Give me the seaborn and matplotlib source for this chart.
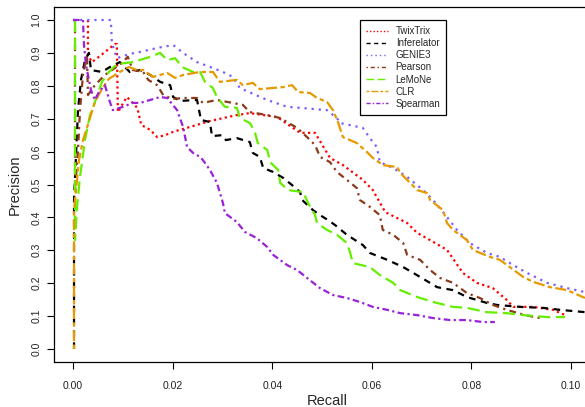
import numpy as np
import pandas as pd
import seaborn as sns
from matplotlib import pyplot as plt

# precision / recall points, one pair of lists per method
twix_r = [0.0030, 0.0030, 0.0038, 0.0062, 0.0084, 0.0088, 0.0090, 0.0108, 0.0118,
          0.0129, 0.0137, 0.0155, 0.0169, 0.0185, 0.0201, 0.0235, 0.0275, 0.0329,
          0.0355, 0.0410, 0.0456, 0.0486, 0.0516, 0.0542, 0.0582, 0.0602, 0.0627,
          0.0671, 0.0691, 0.0717, 0.0751, 0.0783, 0.0811, 0.0843, 0.0871, 0.0884,
          0.0924, 0.0964, 0.0988]
twix_p = [1.000, 0.894, 0.872, 0.900, 0.927, 0.927, 0.720, 0.766, 0.751,
          0.733, 0.681, 0.666, 0.644, 0.650, 0.660, 0.675, 0.693, 0.711,
          0.717, 0.705, 0.657, 0.657, 0.581, 0.559, 0.514, 0.483, 0.416,
          0.383, 0.353, 0.331, 0.301, 0.231, 0.201, 0.185, 0.149, 0.128,
          0.128, 0.119, 0.103]

inf_r = [0.0002, 0.0002, 0.0010, 0.0016, 0.0024, 0.0032, 0.0036, 0.0058, 0.0074,
         0.0094, 0.0114, 0.0135, 0.0155, 0.0175, 0.0195, 0.0201, 0.0215, 0.0249,
         0.0257, 0.0275, 0.0279, 0.0299, 0.0307, 0.0329, 0.0355, 0.0361, 0.0375,
         0.0382, 0.0402, 0.0422, 0.0440, 0.0456, 0.0460, 0.0482, 0.0496, 0.0512,
         0.0526, 0.0550, 0.0582, 0.0596, 0.0631, 0.0663, 0.0697, 0.0731, 0.0763,
         0.0791, 0.0831, 0.0851, 0.0898, 0.0944, 0.0978, 0.1028]
inf_p = [0.000, 0.453, 0.726, 0.818, 0.878, 0.900, 0.848, 0.842, 0.857,
         0.872, 0.842, 0.848, 0.833, 0.812, 0.802, 0.766, 0.754, 0.757,
         0.696, 0.690, 0.647, 0.650, 0.635, 0.641, 0.629, 0.596, 0.584,
         0.550, 0.538, 0.520, 0.498, 0.477, 0.453, 0.422, 0.407, 0.392,
         0.377, 0.347, 0.316, 0.292, 0.271, 0.249, 0.219, 0.188, 0.179,
         0.158, 0.140, 0.134, 0.128, 0.125, 0.119, 0.112]

genie_r = [0.0, 0.0076, 0.0078, 0.0088, 0.0114, 0.0135, 0.0169, 0.0201, 0.0221,
           0.0249, 0.0281, 0.0301, 0.0321, 0.0335, 0.0390, 0.0430, 0.0456, 0.0510,
           0.0530, 0.0536, 0.0582, 0.0596, 0.0610, 0.0616, 0.0643, 0.0671, 0.0703,
           0.0723, 0.0751, 0.0771, 0.0797, 0.0831, 0.0857, 0.0884, 0.0912, 0.0952,
           0.0992, 0.1028]
genie_p = [1.000, 1.000, 0.930, 0.884, 0.897, 0.903, 0.915, 0.924, 0.900,
           0.872, 0.854, 0.842, 0.827, 0.793, 0.757, 0.736, 0.733, 0.726,
           0.702, 0.687, 0.672, 0.641, 0.614, 0.568, 0.550, 0.523, 0.483,
           0.453, 0.401, 0.362, 0.322, 0.292, 0.280, 0.255, 0.231, 0.201,
           0.185, 0.173]

pear_r = [0.0004, 0.0004, 0.0010, 0.0014, 0.0020, 0.0028, 0.0030, 0.0044, 0.0064,
          0.0084, 0.0098, 0.0110, 0.0120, 0.0141, 0.0151, 0.0169, 0.0181, 0.0199,
          0.0225, 0.0249, 0.0261, 0.0289, 0.0341, 0.0355, 0.0390, 0.0416, 0.0450,
          0.0470, 0.0486, 0.0496, 0.0516, 0.0530, 0.0550, 0.0570, 0.0576, 0.0596,
          0.0616, 0.0622, 0.0643, 0.0663, 0.0671, 0.0697, 0.0717, 0.0737, 0.0763,
          0.0791, 0.0817, 0.0843, 0.0871, 0.0908, 0.0938]
pear_p = [1.000, 0.483, 0.605, 0.726, 0.833, 0.894, 0.772, 0.802, 0.833,
          0.854, 0.869, 0.888, 0.848, 0.842, 0.818, 0.802, 0.772, 0.760,
          0.763, 0.763, 0.748, 0.757, 0.742, 0.720, 0.711, 0.702, 0.672,
          0.644, 0.620, 0.584, 0.568, 0.538, 0.514, 0.489, 0.453, 0.432,
          0.407, 0.362, 0.347, 0.322, 0.286, 0.271, 0.240, 0.216, 0.201,
          0.170, 0.155, 0.134, 0.119, 0.103, 0.094]

lemo_r = [0.0004, 0.0004, 0.0008, 0.0014, 0.0024, 0.0034, 0.0042, 0.0058, 0.0072,
          0.0088, 0.0120, 0.0155, 0.0175, 0.0189, 0.0205, 0.0219, 0.0241, 0.0255,
          0.0265, 0.0281, 0.0289, 0.0305, 0.0329, 0.0335, 0.0355, 0.0365, 0.0371,
          0.0390, 0.0396, 0.0412, 0.0416, 0.0432, 0.0462, 0.0472, 0.0486, 0.0490,
          0.0510, 0.0530, 0.0550, 0.0556, 0.0562, 0.0596, 0.0616, 0.0643, 0.0657,
          0.0691, 0.0723, 0.0763, 0.0791, 0.0831, 0.0871, 0.0904, 0.0952, 0.0988]
lemo_p = [1.000, 0.331, 0.432, 0.523, 0.635, 0.711, 0.742, 0.812, 0.842,
          0.866, 0.872, 0.888, 0.900, 0.878, 0.884, 0.857, 0.842, 0.842,
          0.812, 0.793, 0.766, 0.736, 0.733, 0.702, 0.687, 0.660, 0.626,
          0.605, 0.568, 0.544, 0.505, 0.483, 0.477, 0.444, 0.407, 0.383,
          0.362, 0.347, 0.322, 0.295, 0.261, 0.249, 0.225, 0.201, 0.179,
          0.158, 0.143, 0.128, 0.125, 0.112, 0.109, 0.103, 0.097, 0.097]

clr_r = [0.0002, 0.0002, 0.0006, 0.0012, 0.0020, 0.0028, 0.0034, 0.0044, 0.0058,
         0.0072, 0.0094, 0.0112, 0.0129, 0.0141, 0.0155, 0.0161, 0.0189, 0.0205,
         0.0221, 0.0255, 0.0281, 0.0295, 0.0329, 0.0341, 0.0361, 0.0375, 0.0422,
         0.0440, 0.0452, 0.0476, 0.0490, 0.0510, 0.0522, 0.0532, 0.0542, 0.0570,
         0.0590, 0.0602, 0.0622, 0.0651, 0.0657, 0.0677, 0.0691, 0.0711, 0.0717,
         0.0743, 0.0751, 0.0763, 0.0791, 0.0803, 0.0837, 0.0857, 0.0877, 0.0904,
         0.0924, 0.0958, 0.0992, 0.1028]
clr_p = [0.000, 0.422, 0.483, 0.574, 0.635, 0.672, 0.702, 0.751, 0.790,
         0.821, 0.842, 0.857, 0.848, 0.848, 0.833, 0.827, 0.839, 0.824,
         0.833, 0.842, 0.842, 0.812, 0.818, 0.802, 0.809, 0.790, 0.796,
         0.802, 0.781, 0.778, 0.763, 0.751, 0.726, 0.690, 0.644, 0.626,
         0.599, 0.581, 0.559, 0.553, 0.535, 0.505, 0.483, 0.474, 0.453,
         0.422, 0.383, 0.362, 0.331, 0.301, 0.280, 0.271, 0.249, 0.219,
         0.204, 0.188, 0.179, 0.155]

spear_r = [0.0, 0.0020, 0.0022, 0.0026, 0.0032, 0.0036, 0.0044, 0.0052, 0.0064,
           0.0074, 0.0080, 0.0100, 0.0120, 0.0135, 0.0155, 0.0175, 0.0189, 0.0209,
           0.0221, 0.0229, 0.0241, 0.0255, 0.0261, 0.0275, 0.0289, 0.0301, 0.0305,
           0.0329, 0.0345, 0.0369, 0.0390, 0.0402, 0.0430, 0.0450, 0.0470, 0.0496,
           0.0522, 0.0550, 0.0576, 0.0602, 0.0631, 0.0657, 0.0691, 0.0723, 0.0757,
           0.0791, 0.0823, 0.0847]
spear_p = [1.000, 1.000, 0.924, 0.863, 0.818, 0.787, 0.757, 0.781, 0.802,
           0.751, 0.726, 0.736, 0.748, 0.748, 0.757, 0.766, 0.763, 0.726,
           0.675, 0.614, 0.596, 0.584, 0.574, 0.544, 0.505, 0.444, 0.413,
           0.386, 0.356, 0.337, 0.310, 0.286, 0.255, 0.240, 0.216, 0.185,
           0.164, 0.155, 0.143, 0.128, 0.119, 0.109, 0.103, 0.094, 0.088,
           0.088, 0.082, 0.082]

methods = ['TwixTrix', 'Inferelator', 'GENIE3', 'Pearson', 'LeMoNe', 'CLR',
           'Spearman']
recalls = [twix_r, inf_r, genie_r, pear_r, lemo_r, clr_r, spear_r]
precisions = [twix_p, inf_p, genie_p, pear_p, lemo_p, clr_p, spear_p]

colors = {'TwixTrix': '#FF0000', 'Inferelator': '#000000',
          'GENIE3': '#7B5CFF', 'Pearson': '#8B3A1A', 'LeMoNe': '#66EE00',
          'CLR': '#E69A00', 'Spearman': '#9A22D8'}
dashes = {'TwixTrix': (1, 1.5), 'Inferelator': (3, 2.5), 'GENIE3': (1, 2.2),
          'Pearson': (1, 2, 3, 2), 'LeMoNe': (5.5, 2.5),
          'CLR': (2, 1.5, 5, 1.5), 'Spearman': (3, 1.5, 1, 1.5)}

rows = []
for m, r, p in zip(methods, recalls, precisions):
    for i, (rr, pp) in enumerate(zip(r, p)):
        rows.append({'method': m, 'recall': rr, 'precision': pp, 'order': i})
df = pd.DataFrame(rows)

sns.set_style('ticks')
plt.rcParams['font.family'] = ['Liberation Sans', 'DejaVu Sans']

fig = plt.figure(figsize=(5.85, 4.07), dpi=100)
ax = fig.add_axes([54 / 585, 45 / 407, 546 / 585, 355 / 407])

sns.lineplot(data=df, x='recall', y='precision', hue='method', style='method',
             hue_order=methods, style_order=methods, palette=colors,
             dashes=dashes, sort=False, estimator=None, lw=1.6, ax=ax)

ax.set_xlim(-0.00382, 0.10582)
ax.set_ylim(-0.0395, 1.0395)
ax.set_xticks(np.arange(0, 0.101, 0.02))
ax.set_xticklabels([f'{v:.2f}' for v in np.arange(0, 0.101, 0.02)])
ax.set_yticks(np.arange(0, 1.01, 0.1))
ax.set_yticklabels([f'{v:.1f}' for v in np.arange(0, 1.01, 0.1)],
                   rotation=90, va='center')
ax.tick_params(axis='both', direction='out', length=5, width=0.8,
               color='black', labelsize=7.5, labelcolor='#222222')
ax.tick_params(axis='x', pad=9)
ax.tick_params(axis='y', pad=4)
for s in ax.spines.values():
    s.set_color('black')
    s.set_linewidth(0.9)
ax.set_xlabel('Recall', fontsize=10.5, labelpad=2)
ax.set_ylabel('Precision', fontsize=10.5, labelpad=7)

handles, labels = ax.get_legend_handles_labels()
for h in handles:
    h.set_linewidth(1.0)
leg = ax.legend(handles, labels, loc='upper left', bbox_to_anchor=(0.56, 0.963),
                borderaxespad=0, fontsize=7, handlelength=2.3,
                labelspacing=0.22, fancybox=False, framealpha=1,
                edgecolor='black', borderpad=0.6, handletextpad=0.8)
leg.get_frame().set_linewidth(0.9)

plt.savefig('out.png', dpi=100)
